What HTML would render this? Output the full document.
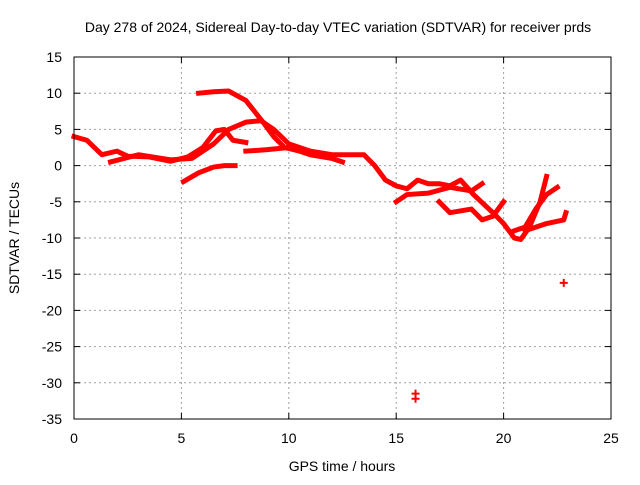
<!DOCTYPE html>
<html><head><meta charset="utf-8"><style>
body{margin:0;background:#fff}
svg text{font-family:"Liberation Sans",sans-serif;font-size:14px;fill:#000}
</style></head><body>
<svg id="chart" width="640" height="480" xmlns="http://www.w3.org/2000/svg">
<rect width="640" height="480" fill="#fff"/>
<text x="338" y="32" text-anchor="middle">Day 278 of 2024, Sidereal Day-to-day VTEC variation (SDTVAR) for receiver prds</text>
<g id="grid"></g>
<g id="ticks"></g>
<g id="series"></g>
<rect x="74" y="57" width="537" height="362" fill="none" stroke="#000" stroke-width="1"/>
<text x="342" y="471" text-anchor="middle">GPS time / hours</text>
<text transform="translate(19,238) rotate(-90)" text-anchor="middle">SDTVAR / TECUs</text>
</svg>
<script>
const xTicks=[0,5,10,15,20,25];
const yTicks=[15,10,5,0,-5,-10,-15,-20,-25,-30,-35];
const track1=[[0,4],[0.6,3.5],[1.3,1.5],[2,2],[2.5,1.3],[3.5,1.2],[4.5,0.6],[5.3,1.2],[6,2.5],[6.6,4.8],[7,5],[7.4,3.5],[8,3.2]];
const track2=[[1.7,0.5],[3,1.5],[4.5,0.8],[5.5,1],[6.5,3],[7.2,5],[8,6],[8.7,6.2],[9.3,5],[10,3],[11,2],[12,1.5],[13.5,1.5],[14,0],[14.5,-2],[15,-2.8],[15.5,-3.2],[16,-2],[16.5,-2.5],[17,-2.5],[17.5,-2.8],[18,-2],[18.6,-4],[19.5,-6.5],[20,-8],[20.5,-10],[20.8,-10.2],[21.2,-8.5],[21.7,-5],[22,-1.5]];
const track3=[[5.8,10],[6.5,10.2],[7.2,10.3],[8,9],[8.8,6],[9.3,4],[9.8,2.5],[10.5,2],[11,1.5],[12,1],[12.5,0.5]];
const track4=[[5.1,-2.2],[5.8,-1],[6.5,-0.2],[7,0],[7.5,0]];
const track5=[[8,2],[9,2.2],[10,2.5]];
const track6=[[15,-5],[15.5,-4],[16.5,-3.8],[17.5,-3],[18.5,-3.5],[19,-2.5]];
const track7=[[17,-5],[17.5,-6.5],[18.5,-6],[19,-7.5],[19.5,-7],[20,-5]];
const track8=[[20.5,-9],[21,-8.5],[21.5,-6],[22,-4],[22.5,-3]];
const track9=[[21,-9],[22,-8],[22.8,-7.5],[22.9,-6.5]];
const outliers=[[15.9,-31.5],[15.9,-32.2],[22.8,-16.2]];
const NS="http://www.w3.org/2000/svg";
const X=h=>74+h*537/25;
const Y=v=>57+(15-v)*362/50;
function mk(tag,attrs,parent){const e=document.createElementNS(NS,tag);for(const k in attrs)e.setAttribute(k,attrs[k]);parent.appendChild(e);return e;}
const grid=document.getElementById('grid'),ticks=document.getElementById('ticks'),series=document.getElementById('series');
xTicks.forEach(t=>{
  if(t>0&&t<25){const l=mk('line',{x1:X(t),x2:X(t),y1:57,y2:419,stroke:'#a0a0a0','stroke-dasharray':'2,3'},grid);
  
  }
  mk('line',{x1:X(t),x2:X(t),y1:419,y2:413,stroke:'#000'},ticks);
  mk('line',{x1:X(t),x2:X(t),y1:57,y2:63,stroke:'#000'},ticks);
  const tx=mk('text',{x:X(t),y:443,'text-anchor':'middle'},ticks);tx.textContent=t;
  
  
});
yTicks.forEach(t=>{
  if(t<15&&t>-35){const l=mk('line',{x1:74,x2:611,y1:Y(t),y2:Y(t),stroke:'#a0a0a0','stroke-dasharray':'2,3'},grid);
  
  }
  mk('line',{x1:74,x2:80,y1:Y(t),y2:Y(t),stroke:'#000'},ticks);
  mk('line',{x1:611,x2:605,y1:Y(t),y2:Y(t),stroke:'#000'},ticks);
  const tx=mk('text',{x:62,y:Y(t)+5,'text-anchor':'end'},ticks);tx.textContent=t;
  
  
});
[track1,track2,track3,track4,track5,track6,track7,track8,track9].forEach(tr=>{
  const p=mk('polyline',{points:tr.map(d=>X(d[0])+','+Y(d[1])).join(' '),fill:'none',stroke:'#ff0000','stroke-width':5,'stroke-linejoin':'round','stroke-linecap':'square'},series);
  
  
});
outliers.forEach(d=>{
  const x=X(d[0]),y=Y(d[1]);
  const p=mk('path',{d:`M${x-4},${y}H${x+4}M${x},${y-4}V${y+4}`,stroke:'#ff0000','stroke-width':2},series);
  
  
});
</script>
</body></html>
